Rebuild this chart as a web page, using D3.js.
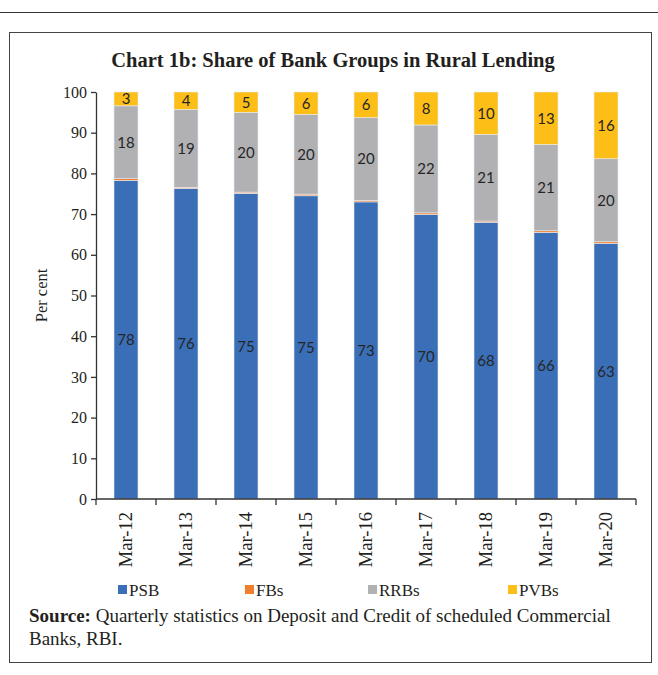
<!DOCTYPE html>
<html>
<head>
<meta charset="utf-8">
<script src="https://cdn.jsdelivr.net/npm/d3@7"></script>
<style>
  body { margin: 0; background: #fff; }
  svg { display: block; }
</style>
</head>
<body>
<svg id="chart" width="658" height="675"></svg>
<script>
// data
const categories = ['Mar-12', 'Mar-13', 'Mar-14', 'Mar-15', 'Mar-16', 'Mar-17', 'Mar-18', 'Mar-19', 'Mar-20'];
const psb  = [78.3, 76.3, 75.1, 74.5, 73.0, 69.9, 68.0, 65.5, 62.8];
const fbs  = [0.4, 0.3, 0.3, 0.4, 0.4, 0.4, 0.3, 0.4, 0.4];
const rrbs = [17.9, 19.1, 19.6, 19.6, 20.3, 21.6, 21.3, 21.2, 20.4];
const pvbs = [3.4, 4.3, 5.0, 5.5, 6.3, 8.1, 10.4, 12.9, 16.4];
const yTicks = [0, 10, 20, 30, 40, 50, 60, 70, 80, 90, 100];

const seriesNames = ['PSB', 'FBs', 'RRBs', 'PVBs'];
const colors = ['#3a6fb7', '#f07e2d', '#b1b1b4', '#fdbf17'];
const showLabel = [true, false, true, true];

const svg = d3.select('#chart');
const serif = "'Liberation Serif', serif";
const sans = "Lato, 'Open Sans', sans-serif";

// frame lines
svg.append('line')
  .attr('x1', 0).attr('x2', 658).attr('y1', 12.5).attr('y2', 12.5)
  .attr('stroke', '#333').attr('stroke-width', 1.2);
svg.append('rect')
  .attr('x', 9.5).attr('y', 32.5).attr('width', 642).attr('height', 630)
  .attr('fill', 'none').attr('stroke', '#444').attr('stroke-width', 1);

svg.append('text')
  .attr('x', 333).attr('y', 67)
  .attr('text-anchor', 'middle')
  .style('font-family', serif).style('font-weight', 'bold').style('font-size', '20.5px')
  .attr('fill', '#231f20')
  .text('Chart 1b: Share of Bank Groups in Rural Lending');

const plot = { left: 96, right: 636, top: 92, bottom: 499 };

const xb = d3.scaleBand().domain(categories).range([plot.left, plot.right]);
const y = d3.scaleLinear().domain([0, 100]).range([plot.bottom, plot.top]);

const rows = categories.map((c, i) => ({
  cat: c, PSB: psb[i], FBs: fbs[i], RRBs: rrbs[i], PVBs: pvbs[i]
}));
const stacked = d3.stack().keys(seriesNames)(rows);

const layers = svg.append('g').selectAll('g')
  .data(stacked)
  .enter()
  .append('g')
    .attr('fill', (d, i) => colors[i]);

layers.selectAll('rect')
  .data(d => d)
  .enter()
  .append('rect')
    .attr('x', d => xb(d.data.cat) + (xb.bandwidth() - 24) / 2)
    .attr('width', 24)
    .attr('y', d => y(d[1]))
    .attr('height', d => y(d[0]) - y(d[1]))
    .attr('stroke', '#e8ecf4')
    .attr('stroke-width', 0.6);

// data labels
stacked.forEach((layer, li) => {
  if (!showLabel[li]) return;
  svg.append('g').selectAll('text')
    .data(layer)
    .enter()
    .append('text')
      .attr('x', d => xb(d.data.cat) + xb.bandwidth() / 2)
      .attr('y', d => y((d[0] + d[1]) / 2))
      .attr('dy', '0.36em')
      .attr('text-anchor', 'middle')
      .style('font-family', sans).style('font-size', '15px')
      .attr('fill', '#262626')
      .text(d => Math.round(d[1] - d[0]));
});

// y axis
const yAxis = svg.append('g')
  .attr('transform', `translate(${plot.left},0)`)
  .call(d3.axisLeft(y).tickValues(yTicks).tickSize(5).tickPadding(4).tickSizeOuter(0));
yAxis.attr('font-family', null);
yAxis.selectAll('text')
  .style('font-family', serif).style('font-size', '16px').attr('fill', '#231f20');
yAxis.selectAll('line, path').attr('stroke', '#333').attr('stroke-width', 1.3);

// x axis with ticks on band edges
const xAxis = svg.append('g')
  .attr('transform', `translate(0,${plot.bottom})`);
xAxis.append('line')
  .attr('x1', plot.left).attr('x2', plot.right).attr('y1', 0).attr('y2', 0)
  .attr('stroke', '#333').attr('stroke-width', 1.3);
xAxis.selectAll('.edge')
  .data(categories.concat(['end']))
  .enter()
  .append('line')
    .attr('class', 'edge')
    .attr('x1', (d, i) => plot.left + i * xb.step())
    .attr('x2', (d, i) => plot.left + i * xb.step())
    .attr('y1', 0).attr('y2', 6)
    .attr('stroke', '#333').attr('stroke-width', 1.3);
xAxis.selectAll('.lbl')
  .data(categories)
  .enter()
  .append('text')
    .attr('class', 'lbl')
    .attr('transform', d => `translate(${xb(d) + xb.bandwidth() / 2},13) rotate(-90)`)
    .attr('text-anchor', 'end')
    .attr('dy', '0.35em')
    .style('font-family', serif).style('font-size', '18.5px')
    .attr('fill', '#231f20')
    .text(d => d);

svg.append('text')
  .attr('transform', `translate(47,${(plot.top + plot.bottom) / 2}) rotate(-90)`)
  .attr('text-anchor', 'middle')
  .style('font-family', serif).style('font-size', '16.5px')
  .attr('fill', '#231f20')
  .text('Per cent');

// legend
const legendX = [118, 245, 368, 508];
const legend = svg.append('g').selectAll('g')
  .data(seriesNames)
  .enter()
  .append('g')
    .attr('transform', (d, i) => `translate(${legendX[i]},590)`);
legend.append('rect')
  .attr('x', 0).attr('y', -5).attr('width', 9).attr('height', 9)
  .attr('fill', (d, i) => colors[i]);
legend.append('text')
  .attr('x', 11).attr('dy', '0.35em')
  .style('font-family', serif).style('font-size', '17px')
  .attr('fill', '#231f20')
  .text(d => d);

// source note
const src = svg.append('text')
  .attr('x', 29).attr('y', 622)
  .style('font-family', serif).style('font-size', '19px')
  .attr('fill', '#231f20');
src.append('tspan').style('font-weight', 'bold').text('Source:');
src.append('tspan').text(' Quarterly statistics on Deposit and Credit of scheduled Commercial');
svg.append('text')
  .attr('x', 29).attr('y', 645)
  .style('font-family', serif).style('font-size', '19px')
  .attr('fill', '#231f20')
  .text('Banks, RBI.');
</script>
</body>
</html>
